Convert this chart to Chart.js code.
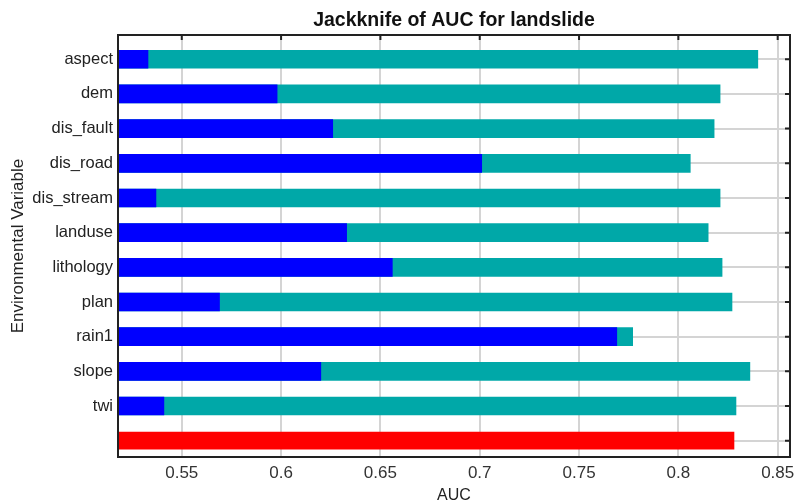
<!DOCTYPE html>
<html>
<head>
<meta charset="utf-8">
<script src="https://cdn.jsdelivr.net/npm/chart.js@4/dist/chart.umd.min.js"></script>
<style>
  html, body { margin: 0; padding: 0; background: #fff; overflow: hidden; }
  #wrap { width: 795px; height: 502px; position: relative; }
</style>
</head>
<body>
<div id="wrap"><canvas id="chart"></canvas></div>
<script>
// rows from top to bottom, the last (blank) row is "with all variables"
const varNames = ["aspect", "dem", "dis_fault", "dis_road", "dis_stream", "landuse",
  "lithology", "plan", "rain1", "slope", "twi"];
const rowLabels = [...varNames, ""];

// AUC
const withoutVar  = [0.840, 0.821, 0.818, 0.806, 0.821, 0.815, 0.822, 0.827, 0.777, 0.836, 0.829];
const withOnlyVar = [0.533, 0.598, 0.626, 0.701, 0.537, 0.633, 0.656, 0.569, 0.769, 0.620, 0.541];
const withAllVars = [0.828];

const TEAL = "#00a8a8", BLUE = "#0000ff", RED = "#ff0000";
const FONT = "'Liberation Sans', Arial, sans-serif";

const toPoints = vals => vals.map((v, i) => ({ x: v, y: i }));

// frame round the plot with small inward ticks on top and right
const frame = {
  id: "frame",
  afterDatasetsDraw(chart) {
    const { ctx, chartArea: a, scales: { x, y } } = chart;
    ctx.save();
    ctx.strokeStyle = "#222";
    ctx.lineWidth = 2;
    ctx.strokeRect(a.left, a.top, a.right - a.left, a.bottom - a.top);
    ctx.beginPath();
    x.ticks.forEach(t => {
      const px = x.getPixelForValue(t.value);
      ctx.moveTo(px, a.top); ctx.lineTo(px, a.top + 5);
    });
    y.ticks.forEach(t => {
      const py = y.getPixelForValue(t.value);
      ctx.moveTo(a.right, py); ctx.lineTo(a.right - 5, py);
    });
    ctx.stroke();
    ctx.restore();
  }
};

new Chart(document.getElementById("chart").getContext("2d"), {
  type: "bar",
  data: {
    datasets: [
      { label: "With only variable", data: toPoints(withOnlyVar), backgroundColor: BLUE, order: 0, barThickness: 18 },
      { label: "Without variable", data: toPoints(withoutVar), backgroundColor: TEAL, order: 1, barThickness: 18 },
      { label: "With all variables", data: withAllVars.map(v => ({ x: v, y: varNames.length })), backgroundColor: RED, order: 2, barThickness: 17 }
    ]
  },
  options: {
    indexAxis: "y",
    responsive: true,
    maintainAspectRatio: false,
    animation: false,
    datasets: { bar: { grouped: false, borderWidth: 0 } },
    layout: { padding: 0 },
    plugins: {
      legend: { display: false },
      tooltip: { enabled: false },
      title: {
        display: true,
        fullSize: false, // centre over the plot, not the canvas
        text: "Jackknife of AUC for landslide",
        color: "#111",
        font: { family: FONT, size: 19.5, weight: "bold" },
        padding: { top: 9, bottom: 2.6 }
      }
    },
    scales: {
      x: {
        type: "linear",
        min: 0.5179,
        max: 0.8562,
        afterFit: s => { s.height = 45; s.paddingLeft = 0; s.paddingRight = 5; },
        border: { display: false },
        grid: { color: "#d4d4d4", lineWidth: 2, drawTicks: false },
        ticks: {
          stepSize: 0.05,
          includeBounds: false,
          padding: 6,
          color: "#333",
          font: { family: FONT, size: 17 },
          callback: v => String(+v.toFixed(2))
        },
        title: {
          display: true,
          text: "AUC",
          color: "#222",
          font: { family: FONT, size: 16 },
          padding: { top: 0, bottom: -3 }
        }
      },
      y: {
        type: "linear",
        reverse: true,
        offset: false,
        min: -0.70,
        max: 11.47,
        afterFit: s => { s.width = 118; },
        border: { display: false },
        grid: { color: "#d4d4d4", lineWidth: 2, drawTicks: false, offset: false },
        ticks: {
          stepSize: 1,
          includeBounds: false,
          autoSkip: false,
          padding: 5,
          color: "#222",
          font: { family: FONT, size: 16.5 },
          callback: v => rowLabels[v] ?? ""
        },
        title: {
          display: true,
          text: "Environmental Variable",
          color: "#222",
          font: { family: FONT, size: 17 },
          padding: { top: 8, bottom: 0 }
        }
      }
    }
  },
  plugins: [frame]
});
</script>
</body>
</html>
